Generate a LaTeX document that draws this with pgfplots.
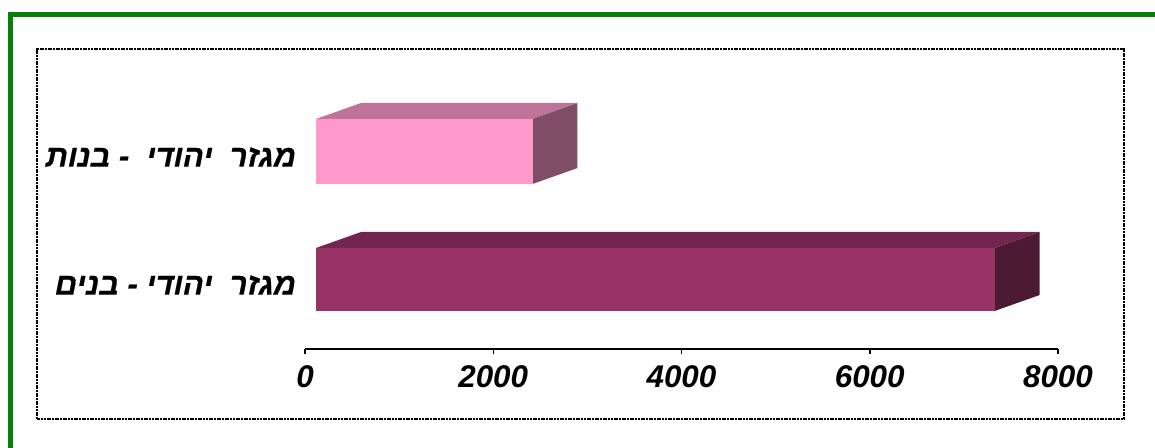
\documentclass[border=0pt]{standalone}
\usepackage{fontspec}
\usepackage{pgfplots}
\pgfplotsset{compat=1.18}
\setmainfont{Liberation Sans}
\newfontfamily\hebfont[Script=Hebrew,FakeSlant=0.2,FakeBold=0.6]{Liberation Sans Bold}
\TeXXeTstate=1
\definecolor{gfront}{RGB}{255,153,204}
\definecolor{gtop}{RGB}{191,115,153}
\definecolor{gside}{RGB}{128,77,102}
\definecolor{bfront}{RGB}{153,51,102}
\definecolor{btop}{RGB}{115,38,77}
\definecolor{bside}{RGB}{77,26,51}
\definecolor{frgreen}{RGB}{8,128,8}
\begin{document}
\begin{tikzpicture}
\useasboundingbox (0,0) rectangle (1155bp,448bp);
% green frame
\draw[frgreen, line width=5bp] (10bp,0) -- (10bp,433.5bp) -- (1155bp,433.5bp);
% dotted inner frame
\draw[black, line width=2.4bp, dash pattern=on 2bp off 0.7bp] (37bp,29bp) rectangle (1124bp,399bp);
\begin{axis}[
  at={(305bp,99bp)}, anchor=south west,
  scale only axis, width=753bp, height=309bp,
  xmin=0, xmax=8000, ymin=-349, ymax=-40,
  axis x line*=bottom, axis y line*=left,
  x axis line style={black, line width=1.5bp},
  y axis line style={draw=none},
  xtick={0,2000,4000,6000,8000},
  xticklabels={0,2000,4000,6000,8000},
  xtick style={black, line width=1.5bp},
  tick align=outside, major tick length=5bp,
  xticklabel style={font=\bfseries\itshape\fontsize{31.5}{31.5}\selectfont, yshift=-8bp},
  ytick={-285,-157},
  yticklabels={{\hebfont\beginR מגזר~ יהודי - בנים\endR},{\hebfont\beginR מגזר~ יהודי~ - בנות\endR}},
  ytick style={draw=none},
  yticklabel style={font=\fontsize{31}{31}\selectfont, anchor=east, xshift=-2bp},
  clip=false,
]
% girls bar (value 2300), boys bar (value 7210); front face starts at depth offset 117
\addplot[fill=gtop, draw=none] coordinates {(117,-119) (2417,-119) (2895,-103) (595,-103)} -- cycle;
\addplot[fill=gside, draw=none] coordinates {(2417,-119) (2895,-103) (2895,-168) (2417,-184)} -- cycle;
\addplot[fill=gfront, draw=none] coordinates {(117,-119) (2417,-119) (2417,-184) (117,-184)} -- cycle;
\addplot[fill=btop, draw=none] coordinates {(117,-248) (7327,-248) (7805,-232) (595,-232)} -- cycle;
\addplot[fill=bside, draw=none] coordinates {(7327,-248) (7805,-232) (7805,-295) (7327,-311)} -- cycle;
\addplot[fill=bfront, draw=none] coordinates {(117,-248) (7327,-248) (7327,-311) (117,-311)} -- cycle;
\end{axis}
\end{tikzpicture}
\end{document}
